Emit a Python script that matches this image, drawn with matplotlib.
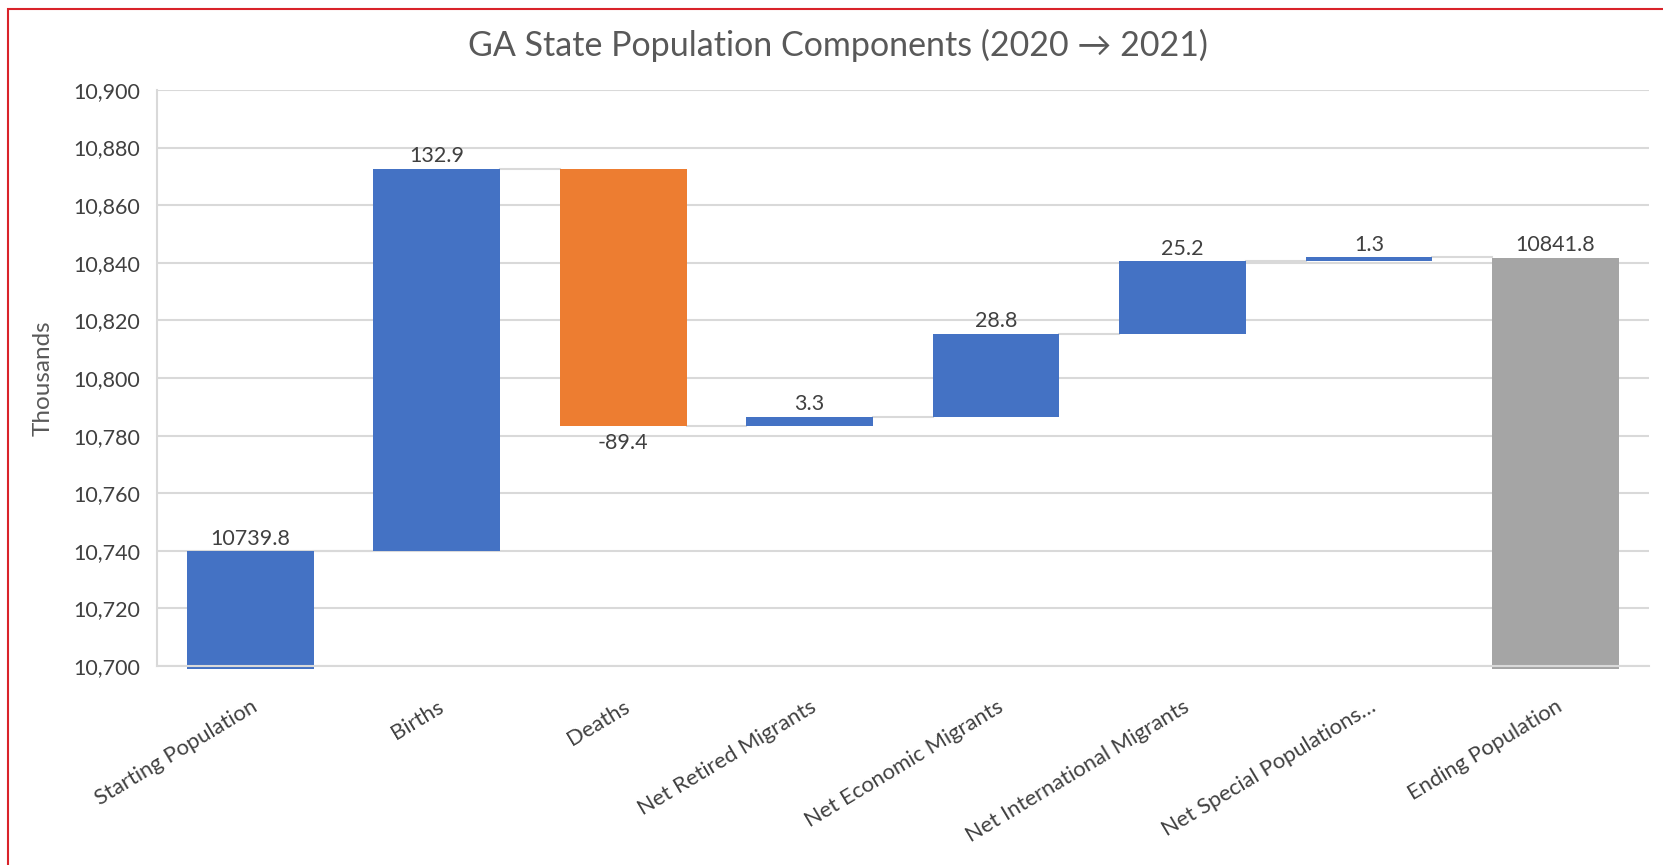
import numpy as np
import matplotlib.pyplot as plt
from matplotlib.patches import Rectangle

# waterfall data (thousands)
categories = ["Starting Population", "Births", "Deaths", "Net Retired Migrants",
              "Net Economic Migrants", "Net International Migrants",
              "Net Special Populations…", "Ending Population"]
changes = [10739.8, 132.9, -89.4, 3.3, 28.8, 25.2, 1.3, 10841.8]
kinds = ["total", "up", "down", "up", "up", "up", "up", "total"]
yticks = [10700, 10720, 10740, 10760, 10780, 10800, 10820, 10840, 10860, 10880, 10900]

colors = {"total": "#4472C4", "up": "#4472C4", "down": "#ED7D31"}
text_c = "#404040"
grid_c = "#D9D9D9"

plt.rcParams['font.family'] = ['Lato', 'DejaVu Sans']

fig = plt.figure(figsize=(16.63, 8.65), dpi=100)
ax = fig.add_axes([0.0944, 0.230, 0.897, 0.666])

x = np.arange(len(categories))
width = 0.68
lab_fs = 15.5
running = 0.0
tops = []
for i, (v, k) in enumerate(zip(changes, kinds)):
    if k == "total":
        c = "#A5A5A5" if i == len(changes) - 1 else colors["total"]
        ax.bar(x[i], v - 10699, bottom=10699, width=width, color=c, zorder=3,
               clip_on=False)
        running = v
        ax.text(x[i], v + 1.0, f"{v:.1f}", ha="center", va="bottom",
                fontsize=lab_fs, color=text_c)
        tops.append(v)
    else:
        start = running
        end = running + v
        ax.bar(x[i], end - start, bottom=start, width=width, color=colors[k], zorder=3)
        if v >= 0:
            ax.text(x[i], end + 0.8, f"{v:.1f}", ha="center", va="bottom",
                    fontsize=lab_fs, color=text_c)
        else:
            ax.text(x[i], end - 2.3, f"{v:.1f}", ha="center", va="top",
                    fontsize=lab_fs, color=text_c)
        running = end
        tops.append(end)

# connector lines between bars
for i in range(len(categories) - 1):
    ax.plot([x[i] + width / 2, x[i + 1] - width / 2], [tops[i], tops[i]],
            color=grid_c, lw=1.5, zorder=2)

ax.set_xlim(-0.5, len(categories) - 0.5)
ax.set_ylim(10700, 10900)
ax.set_yticks(yticks)
ax.set_yticklabels([f"{t:,}" for t in yticks], fontsize=15.5, color=text_c)
ax.yaxis.grid(True, color=grid_c, lw=1.5, zorder=0)
ax.set_axisbelow(True)
ax.tick_params(axis="both", length=0, pad=12)
ax.set_xticks(x)
ax.set_xticklabels(categories, rotation=31, ha="right", rotation_mode="anchor",
                   fontsize=15.8, color=text_c)
ax.tick_params(axis="x", pad=22)
for s in ["top", "right"]:
    ax.spines[s].set_visible(False)
ax.spines["left"].set_color(grid_c)
ax.spines["bottom"].set_color(grid_c)
ax.spines["left"].set_linewidth(1.5)
ax.spines["bottom"].set_linewidth(1.5)
ax.spines["bottom"].set_zorder(4)

ax.set_ylabel("Thousands", fontsize=17.5, color="#595959")
ax.yaxis.set_label_coords(-0.069, 0.5)
fig.text(0.504, 0.948, "GA State Population Components (2020 → 2021)",
         ha="center", va="center", fontsize=24.5, color="#595959")

# red frame of the source screenshot
fig.patches.append(Rectangle((0.0051, -0.05), 1.2, 0.9979 - 0.0078 + 0.05,
                             transform=fig.transFigure, fill=False,
                             edgecolor="#D9232A", lw=1.5))

plt.savefig("out.png", dpi=100)
